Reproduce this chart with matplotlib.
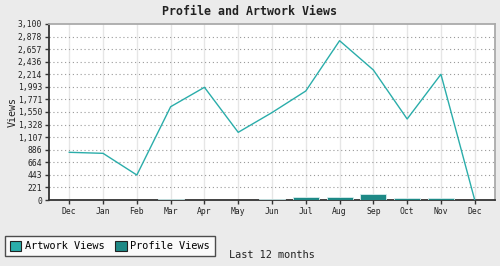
import matplotlib
matplotlib.use("Agg")
import matplotlib.pyplot as plt
from matplotlib.patches import Patch

months = ["Dec", "Jan", "Feb", "Mar", "Apr", "May", "Jun", "Jul", "Aug", "Sep", "Oct", "Nov", "Dec"]
artwork_views = [840, 822, 440, 1643, 1985, 1192, 1540, 1920, 2806, 2290, 1427, 2214, 0]
profile_views = [0, 3, 3, 18, 0, 0, 23, 47, 47, 111, 40, 40, 0]
ytick_values = [0, 221, 443, 664, 886, 1107, 1328, 1550, 1771, 1993, 2214, 2436, 2657, 2878, 3100]
ytick_labels = ["0", "221", "443", "664", "886", "1,107", "1,328", "1,550", "1,771", "1,993",
                "2,214", "2,436", "2,657", "2,878", "3,100"]

line_color = "#2aadaa"
bar_color = "#1e8986"
bg = "#ebebeb"
mono = "DejaVu Sans Mono"

fig = plt.figure(figsize=(5.0, 2.66), dpi=100, facecolor=bg)
ax = fig.add_axes([49/500, 66/266, (495-49)/500, 176/266])
ax.set_facecolor("white")

x = list(range(len(months)))
edges = ["#d8eeee" if v > 10 else "none" for v in profile_views]
ax.bar(x, profile_views, width=0.77, color=bar_color, edgecolor=edges, linewidth=0.6, zorder=3)
ax.plot(x, artwork_views, color=line_color, linewidth=1.0, zorder=4)

ax.set_xlim(-0.6, len(months) - 1 + 0.6)
ax.set_ylim(0, 3100)
ax.set_xticks(x)
ax.set_xticklabels(months, fontsize=5.8, family=mono, color="#222222")
ax.set_yticks(ytick_values)
ax.set_yticklabels(ytick_labels, fontsize=5.8, family=mono, color="#222222")

for v in ytick_values[1:-1]:
    ax.axhline(v, color="#999999", linestyle=(0, (1, 2.5)), linewidth=0.8, zorder=1)
for xi in x:
    ax.axvline(xi, color="#e6e6e6", linewidth=1.0, zorder=0.5)

for side in ["left", "bottom"]:
    ax.spines[side].set_color("#333333")
    ax.spines[side].set_linewidth(1.3)
for side in ["top", "right"]:
    ax.spines[side].set_color("#aaaaaa")
    ax.spines[side].set_linewidth(1.3)

ax.tick_params(axis="both", direction="out", length=3, width=1, color="#333333", pad=2)

ax.set_ylabel("Views", fontsize=7.2, family=mono, color="#222222", labelpad=0)
fig.text(0.5, 0.955, "Profile and Artwork Views", ha="center", va="center",
         fontsize=8.4, family=mono, fontweight="bold", color="#222222")
fig.text(272/500, 1 - 255/266, "Last 12 months", ha="center", va="center",
         fontsize=7.4, family=mono, color="#222222")

handles = [Patch(facecolor=line_color, edgecolor="#222222", linewidth=0.8, label="Artwork Views"),
           Patch(facecolor=bar_color, edgecolor="#222222", linewidth=0.8, label="Profile Views")]
leg = fig.legend(handles=handles, loc="lower left", bbox_to_anchor=(5/500, 1 - 256/266),
                 ncol=2, frameon=True, fancybox=False, prop={"family": mono, "size": 7.4},
                 handlelength=1.1, handleheight=1.2, handletextpad=0.35, columnspacing=1.1,
                 borderpad=0.45, borderaxespad=0)
leg.get_frame().set_edgecolor("#222222")
leg.get_frame().set_linewidth(1.0)
leg.get_frame().set_facecolor("white")

fig.savefig("out.png", dpi=100, facecolor=bg)
